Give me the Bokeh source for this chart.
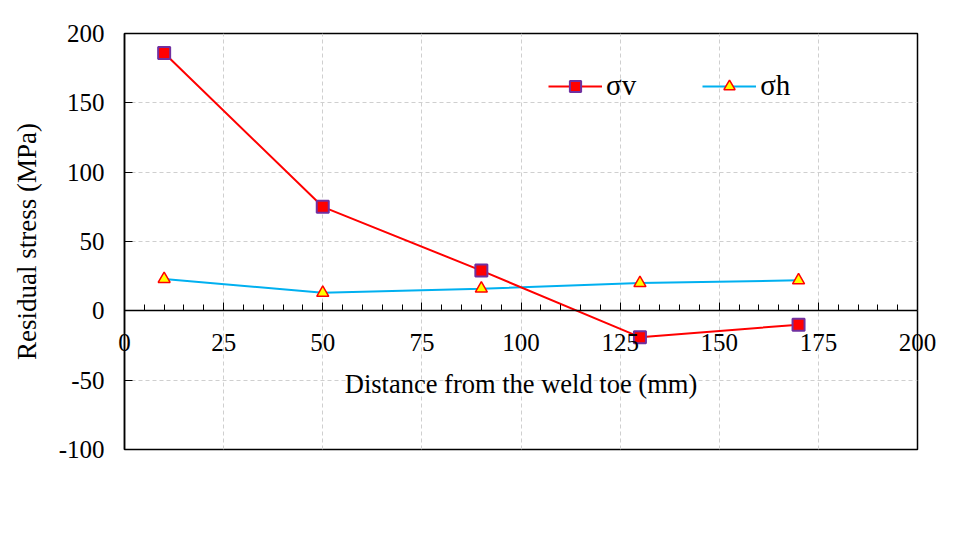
from bokeh.plotting import figure
from bokeh.models import (FixedTicker, Legend, LegendItem, LinearAxis,
                          CustomJSTickFormatter)
from bokeh.embed import file_html
from bokeh.resources import INLINE

distance = [10, 50, 90, 130, 170]
sigma_v = [186, 75, 29, -19, -10]
sigma_h = [23, 13, 16, 20, 22]
x_ticks = [0, 25, 50, 75, 100, 125, 150, 175, 200]
y_ticks = [-100, -50, 0, 50, 100, 150, 200]

FONT = "Liberation Serif"

p = figure(width=952, height=537, output_backend="svg", toolbar_location=None,
           x_range=(0, 200), y_range=(-100, 200),
           frame_width=793, frame_height=416,
           min_border_left=124, min_border_top=33, min_border_right=35, min_border_bottom=88)
p.background_fill_color = "white"
p.border_fill_color = "white"
p.outline_line_color = "black"
p.outline_line_width = 1.5

# grids
p.xgrid.ticker = FixedTicker(ticks=x_ticks)
p.ygrid.ticker = FixedTicker(ticks=y_ticks)
for g in (p.xgrid, p.ygrid):
    g.grid_line_color = "#cfcfcf"
    g.grid_line_dash = "4 3"
    g.grid_line_width = 1

# bottom axis: carries only the tick labels and title, pulled up into the frame
xa = p.xaxis[0]
xa.ticker = FixedTicker(ticks=x_ticks)
xa.formatter = CustomJSTickFormatter(code="return tick.toString();")
xa.axis_line_color = None
xa.major_tick_in = 0
xa.major_tick_out = 0
xa.minor_tick_in = 0
xa.minor_tick_out = 0
xa.major_label_text_font = FONT
xa.major_label_text_font_size = "25px"
xa.major_label_text_color = "black"
xa.major_label_standoff = -116
xa.axis_label = "Distance from the weld toe (mm)"
xa.axis_label_text_font = FONT
xa.axis_label_text_font_size = "26.5px"
xa.axis_label_text_font_style = "normal"
xa.axis_label_text_color = "black"
xa.axis_label_standoff = 15

# axis line and ticks crossing at y = 0
x0 = LinearAxis(fixed_location=0,
                ticker=FixedTicker(ticks=x_ticks, minor_ticks=list(range(0, 201, 5))),
                formatter=CustomJSTickFormatter(code="return '';"))
x0.major_tick_in = 8
x0.major_tick_out = 0
x0.minor_tick_in = 6
x0.minor_tick_out = 0
x0.axis_line_width = 1.5
x0.major_label_standoff = 0
p.add_layout(x0, "below")

ya = p.yaxis[0]
ya.ticker = FixedTicker(ticks=y_ticks)
ya.formatter = CustomJSTickFormatter(code="return tick.toString();")
ya.major_tick_in = 8
ya.major_tick_out = 0
ya.minor_tick_in = 0
ya.minor_tick_out = 0
ya.axis_line_width = 1.5
ya.major_label_text_font = FONT
ya.major_label_text_font_size = "25px"
ya.major_label_text_color = "black"
ya.major_label_standoff = 20
ya.axis_label = "Residual stress (MPa)"
ya.axis_label_text_font = FONT
ya.axis_label_text_font_size = "27px"
ya.axis_label_text_font_style = "normal"
ya.axis_label_text_color = "black"
ya.axis_label_standoff = 14

lh = p.line(distance, sigma_h, line_color="#00B0F0", line_width=2)
lv = p.line(distance, sigma_v, line_color="#FF0000", line_width=2)
sv = p.scatter(distance, sigma_v, marker="square", size=12, fill_color="#FF0000",
               line_color="#7030A0", line_width=2)
sh = p.scatter(distance, sigma_h, marker="triangle", size=12, fill_color="#FFFF00",
               line_color="#FF0000", line_width=1.5)

legend = Legend(items=[LegendItem(label="σv", renderers=[lv, sv]),
                       LegendItem(label="σh", renderers=[lh, sh])],
                orientation="horizontal", location=(424, 347))
legend.border_line_color = None
legend.background_fill_alpha = 0
legend.padding = 0
legend.margin = 0
legend.spacing = 66
legend.glyph_width = 54
legend.glyph_height = 28
legend.label_standoff = 4
legend.label_text_font = FONT
legend.label_text_font_size = "29px"
legend.label_text_color = "black"
legend.label_text_baseline = "middle"
p.add_layout(legend, "center")

open("out.html", "w").write(file_html(p, INLINE))
